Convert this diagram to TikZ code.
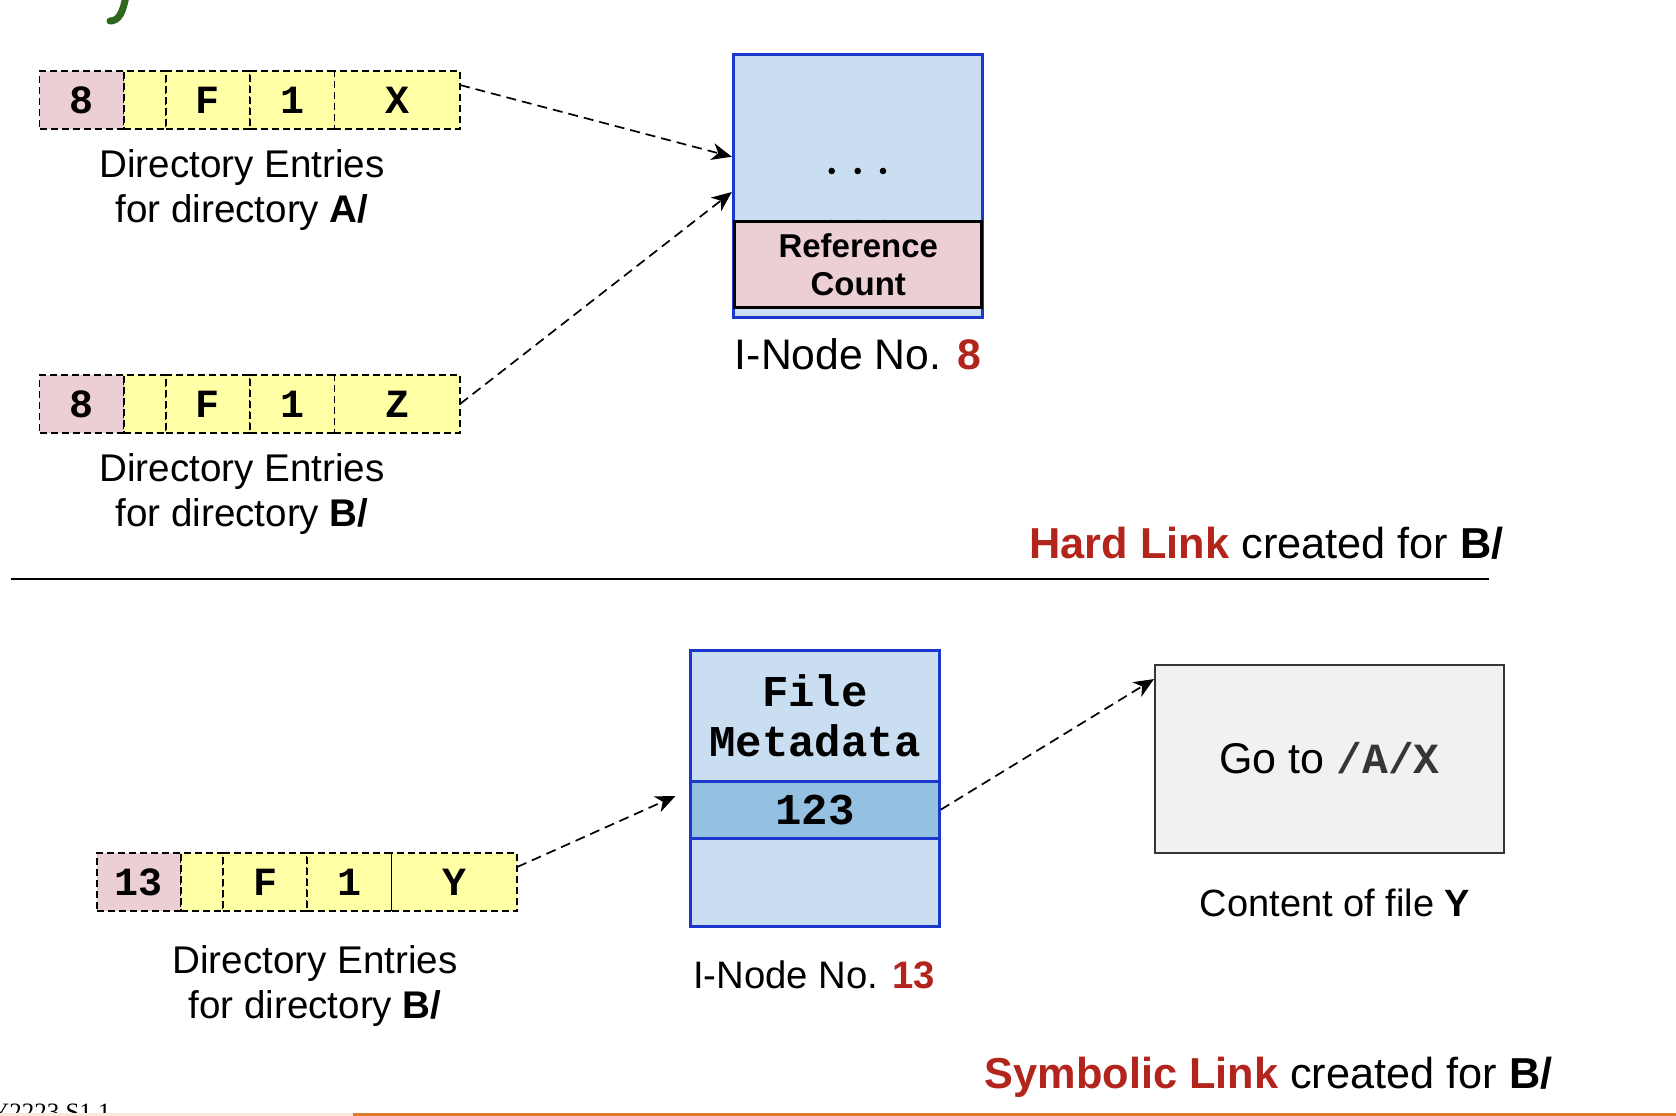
\documentclass[tikz,border=0pt]{standalone}
\usepackage{fontspec}
\setmainfont{Liberation Sans}
\setmonofont{Liberation Mono}
\newfontfamily\footfont{Liberation Serif}
\usetikzlibrary{arrows.meta}
\definecolor{cellpink}{RGB}{235,207,212}
\definecolor{cellyellow}{RGB}{255,255,166}
\definecolor{inodeblue}{RGB}{201,222,240}
\definecolor{ptrblue}{RGB}{148,192,226}
\definecolor{borderblue}{RGB}{28,56,204}
\definecolor{linkred}{RGB}{178,36,28}
\definecolor{goboxfill}{RGB}{241,241,241}
\definecolor{goborder}{RGB}{54,54,54}
\definecolor{orangeline}{RGB}{224,124,46}
\definecolor{peach}{RGB}{250,232,216}
\definecolor{titlegreen}{RGB}{46,104,30}
\tikzset{
  cell/.style={draw=black, dash pattern=on 7pt off 4pt, line width=1.6pt,
    minimum height=58pt, inner sep=0pt, outer sep=0pt, anchor=west,
    font=\fontsize{40}{40}\selectfont\ttfamily\bfseries},
  pinkcell/.style={cell, fill=cellpink},
  yelcell/.style={cell, fill=cellyellow},
  conn/.style={draw=black, line width=1.7pt, dash pattern=on 10pt off 6pt,
    -{Stealth[length=20pt,width=17pt,inset=6pt]}},
  dirlab/.style={font=\fontsize{38.6}{45}\selectfont, align=center, anchor=base, inner sep=0pt},
  iblock/.style={draw=borderblue, line width=3pt, fill=inodeblue, minimum width=248.6pt,
    inner sep=0pt, align=center, font=\fontsize{44}{49.7}\selectfont\ttfamily\bfseries},
  caption/.style={anchor=base west, inner sep=0pt, font=\fontsize{43.3}{50}\selectfont}
}
\begin{document}
\begin{tikzpicture}[x=1pt,y=-1pt]
\useasboundingbox (0,0) rectangle (1676,1116);
\fill[white] (0,0) rectangle (1676,1116);
\clip (0,0) rectangle (1676,1116);

% cropped title fragment
\draw[titlegreen, line width=7pt, line cap=round] (126,-4) .. controls (123,12) and (119,21) .. (110,21);

% ---------- Hard link ----------
% row A
\node[pinkcell, minimum width=84.2pt] (a1) at (39.5,100) {8};
\node[yelcell, minimum width=42pt] (a2) at (a1.east) {};
\node[yelcell, minimum width=84.3pt] (a3) at (a2.east) {F};
\node[yelcell, minimum width=84.3pt] (a4) at (a3.east) {1};
\node[yelcell, minimum width=125.7pt] (a5) at (a4.east) {X};
\node[dirlab] (labA) at (242,222) {Directory Entries\\for directory \textbf{A/}};

% row B
\node[pinkcell, minimum width=84.2pt] (b1) at (39.5,404) {8};
\node[yelcell, minimum width=42pt] (b2) at (b1.east) {};
\node[yelcell, minimum width=84.3pt] (b3) at (b2.east) {F};
\node[yelcell, minimum width=84.3pt] (b4) at (b3.east) {1};
\node[yelcell, minimum width=125.7pt] (b5) at (b4.east) {Z};
\node[dirlab] (labB) at (242,526.7) {Directory Entries\\for directory \textbf{B/}};

% inode 8
\node[draw=borderblue, line width=3pt, fill=inodeblue, minimum width=249.4pt,
  minimum height=262.7pt, inner sep=0pt] (inode8) at (858,186.35) {};
\foreach \dx in {831.7,857.7,883} {
  \fill (\dx,171) circle (3.3pt);
  \fill (\dx,223) circle (3.3pt);
}
\node[draw=black, line width=3pt, fill=cellpink, minimum width=246.7pt, minimum height=86pt,
  inner sep=0pt, align=center, font=\fontsize{33}{38}\selectfont\bfseries] (refc) at (858.3,264.7) {\raisebox{-2.5pt}{Reference}\\\raisebox{-2.5pt}{Count}};
\node[anchor=base, inner sep=0pt, font=\fontsize{42.7}{48}\selectfont] (lab8) at (858,369) {I-Node No. \textcolor{linkred}{\textbf{8}}};

\draw[conn] ([yshift=15pt]a5.east) -- ([yshift=29.6pt]inode8.west);
\draw[conn] (b5.east) -- ([yshift=-5.7pt]inode8.west);

\node[caption] (hard) at (1029.4,558) {\textcolor{linkred}{\textbf{Hard Link}} created for \textbf{B/}};

\coordinate (sepL) at (10.7,578.5);
\coordinate (sepR) at (1489,578.5);
\draw[line width=2pt] (sepL) -- (sepR);

% ---------- Symbolic link ----------
\node[pinkcell, minimum width=84.2pt] (y1) at (96.7,882) {13};
\node[yelcell, minimum width=42pt] (y2) at (y1.east) {};
\node[yelcell, minimum width=84.3pt] (y3) at (y2.east) {F};
\node[yelcell, minimum width=84.3pt] (y4) at (y3.east) {1};
\node[yelcell, minimum width=125.7pt] (y5) at (y4.east) {Y};
\node[dirlab] (labY) at (315,1018.3) {Directory Entries\\for directory \textbf{B/}};

\node[iblock, minimum height=131pt] (meta) at (815,715.5) {File\\Metadata};
\node[iblock, fill=ptrblue, minimum height=57.3pt] (ptr) at (815,809.65) {123};
\node[iblock, minimum height=87.7pt] (blank) at (815,882.15) {};
\node[anchor=base, inner sep=0pt, font=\fontsize{38.3}{44}\selectfont] (lab13) at (814,988.3) {I-Node No. \textcolor{linkred}{\textbf{13}}};

\node[draw=goborder, line width=2pt, fill=goboxfill, minimum width=349pt, minimum height=188.3pt,
  inner sep=0pt, font=\fontsize{43}{50}\selectfont] (goto) at (1329.5,759.2) {\raisebox{2pt}{Go to \textcolor{goborder}{\ttfamily\bfseries /A/X}}};
\node[anchor=base, inner sep=0pt, font=\fontsize{38}{44}\selectfont] (labgo) at (1335,916) {Content of file \textbf{Y}};

\coordinate (yend) at (675.5,796);
\draw[conn] ([yshift=15pt]y5.east) -- (yend);
\draw[conn] (ptr.east) -- ([yshift=-15pt]goto.north west);

\node[caption] (sym) at (984.5,1088) {\textcolor{linkred}{\textbf{Symbolic Link}} created for \textbf{B/}};

% footer
\node[anchor=base west, inner sep=0pt, font=\fontsize{25}{30}\selectfont\footfont] (foot) at (-9,1120) {Y2223 S1.1};
\fill[peach] (0,1112.5) rectangle (353,1116);
\fill[orangeline] (353,1112.5) rectangle (1676,1116);
\end{tikzpicture}
\end{document}
